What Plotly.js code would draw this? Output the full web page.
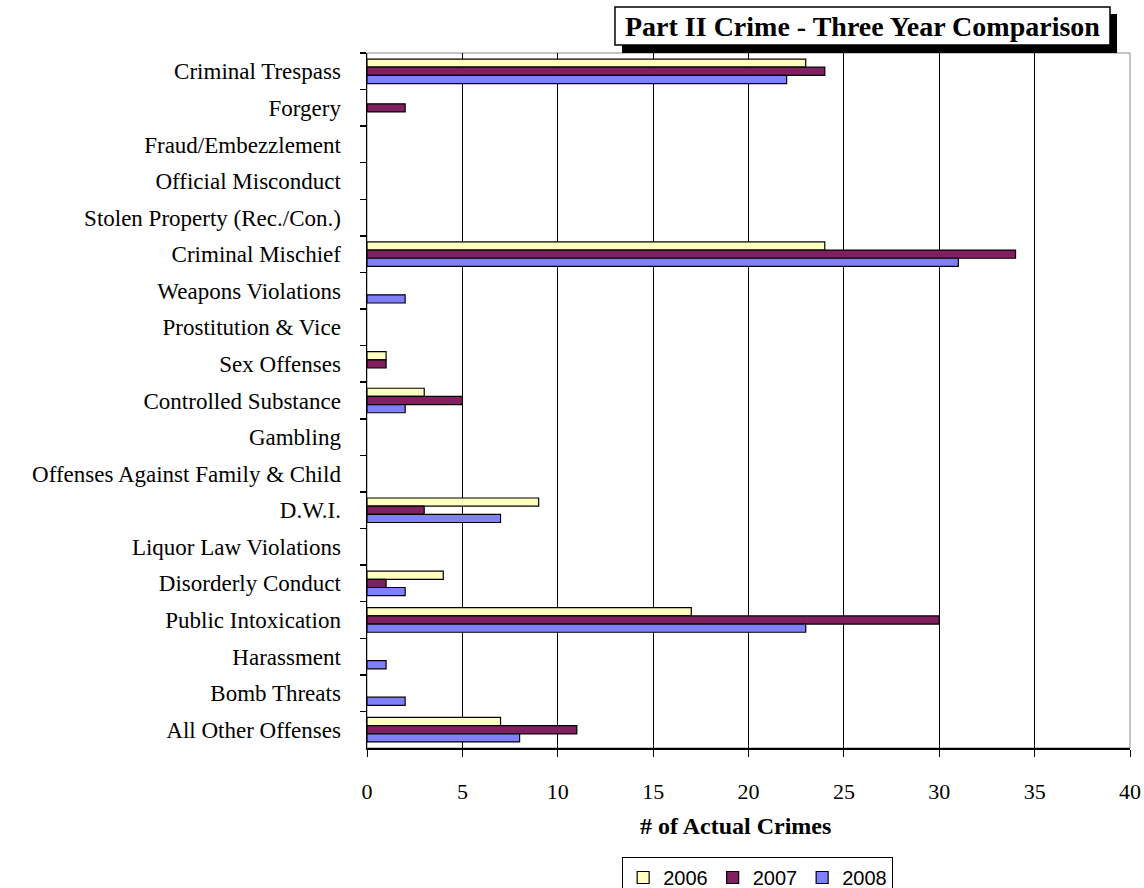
<!DOCTYPE html>
<html>
<head>
<meta charset="utf-8">
<script src="https://cdn.plot.ly/plotly-3.0.1.min.js"></script>
<style>
  html, body { margin: 0; padding: 0; background: #ffffff; }
  #chart { width: 1144px; height: 888px; }
</style>
</head>
<body>
<div id="chart"></div>
<script>
const categories = [
  "Criminal Trespass",
  "Forgery",
  "Fraud/Embezzlement",
  "Official Misconduct",
  "Stolen Property (Rec./Con.)",
  "Criminal Mischief",
  "Weapons Violations",
  "Prostitution & Vice",
  "Sex Offenses",
  "Controlled Substance",
  "Gambling",
  "Offenses Against Family & Child",
  "D.W.I.",
  "Liquor Law Violations",
  "Disorderly Conduct",
  "Public Intoxication",
  "Harassment",
  "Bomb Threats",
  "All Other Offenses"
];
const values2006 = [23, 0, 0, 0, 0, 24, 0, 0, 1, 3, 0, 0, 9, 0, 4, 17, 0, 0, 7];
const values2007 = [24, 2, 0, 0, 0, 34, 0, 0, 1, 5, 0, 0, 3, 0, 1, 30, 0, 0, 11];
const values2008 = [22, 0, 0, 0, 0, 31, 2, 0, 0, 2, 0, 0, 7, 0, 2, 23, 1, 2, 8];
const seriesNames = ["2006", "2007", "2008"];
const xTicks = [0, 5, 10, 15, 20, 25, 30, 35, 40];
const chartTitle = "Part II Crime - Three Year Comparison";
const xTitle = "# of Actual Crimes";

const colors = ["#FFFFC0", "#802060", "#8080FF"];
const allValues = [values2006, values2007, values2008];

const traces = allValues.map((vals, i) => ({
  type: "bar",
  orientation: "h",
  name: seriesNames[i],
  y: categories,
  x: vals,
  marker: {
    color: colors[i],
    line: { color: "#000000", width: vals.map(v => (v > 0 ? 1.2 : 0)) }
  },
  hoverinfo: "x+name"
}));

const serif = "Liberation Serif, Times New Roman, serif";

const layout = {
  width: 1144,
  height: 888,
  paper_bgcolor: "#ffffff",
  plot_bgcolor: "#ffffff",
  margin: { l: 367, r: 14, t: 53, b: 140, pad: 0 },
  barmode: "group",
  bargap: 0.33,
  bargroupgap: 0,
  showlegend: true,
  legend: {
    orientation: "h",
    xref: "paper",
    yref: "container",
    x: 0.512, xanchor: "center",
    y: 0.0349, yanchor: "top",
    bordercolor: "#000000", borderwidth: 1,
    bgcolor: "#ffffff",
    font: { family: "Liberation Sans, Arial, sans-serif", size: 20, color: "#000000" },
    traceorder: "normal"
  },
  xaxis: {
    range: [0, 40],
    automargin: false,
    tickvals: xTicks,
    ticktext: xTicks.map(String),
    showgrid: true,
    gridcolor: "#000000",
    gridwidth: 1,
    zeroline: false,
    showline: true,
    linecolor: "#000000",
    linewidth: 1.5,
    ticks: "outside",
    ticklen: 7,
    tickcolor: "#000000",
    ticklabelstandoff: 16,
    tickfont: { family: serif, size: 22, color: "#000000" },
    fixedrange: true
  },
  yaxis: {
    type: "category",
    automargin: false,
    autorange: "reversed",
    tickson: "boundaries",
    ticks: "outside",
    ticklen: 6,
    tickcolor: "#000000",
    tickwidth: 1.5,
    showline: true,
    linecolor: "#000000",
    linewidth: 1.5,
    showgrid: false,
    zeroline: false,
    ticklabelstandoff: 20,
    tickfont: { family: serif, size: 23, color: "#000000" },
    fixedrange: true
  },
  shapes: [
    { type: "rect", xref: "paper", yref: "paper", x0: 0, x1: 1, y0: 0, y1: 1,
      line: { color: "#888888", width: 1 }, fillcolor: "rgba(0,0,0,0)", layer: "below" },
    { type: "rect", xref: "paper", yref: "paper", x0: 0.3342, x1: 0.983, y0: 1.0, y1: 1.0561,
      line: { color: "#000000", width: 0 }, fillcolor: "#000000", layer: "above" },
    { type: "rect", xref: "paper", yref: "paper", x0: 0.3250, x1: 0.9738, y0: 1.0115, y1: 1.0662,
      line: { color: "#000000", width: 1.5 }, fillcolor: "#ffffff", layer: "above" }
  ],
  annotations: [
    { text: "<b>" + chartTitle + "</b>", xref: "paper", yref: "paper",
      x: 0.6494, y: 1.0388, xanchor: "center", yanchor: "middle", showarrow: false,
      font: { family: serif, size: 28, color: "#000000" } },
    { text: "<b>" + xTitle + "</b>", xref: "paper", yref: "paper",
      x: 0.4836, y: -0.112, xanchor: "center", yanchor: "middle", showarrow: false,
      font: { family: serif, size: 24, color: "#000000" } }
  ]
};

Plotly.newPlot("chart", traces, layout, { displayModeBar: false, staticPlot: true });
</script>
</body>
</html>
